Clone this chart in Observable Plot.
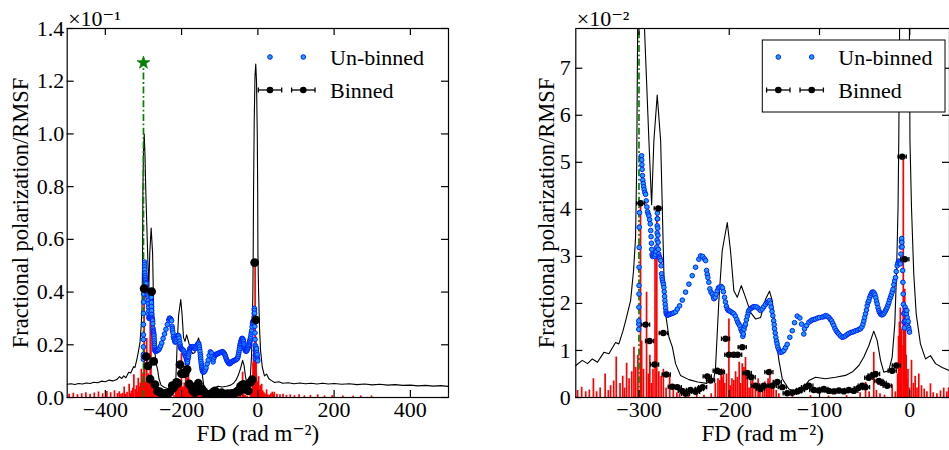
<!DOCTYPE html>
<html><head><meta charset="utf-8">
<script src="https://cdn.jsdelivr.net/npm/d3@7"></script>
<script src="https://cdn.jsdelivr.net/npm/@observablehq/plot@0.6"></script>
<style>
body{margin:0;background:#fff;}
#chart{position:relative;width:949px;height:450px;overflow:hidden;background:#fff;}
#chart > svg{position:absolute;top:0;}
</style></head><body><div id="chart"></div>
<script>
// All polarization values in units of 1e-2 ; FD in rad m^-2
const lineData = [[-500,0.50],[-490,0.52],[-480,0.49],[-470,0.53],[-460,0.51],[-450,0.55],[-440,0.53],[-430,0.58],[-420,0.56],[-410,0.62],[-400,0.60],[-390,0.66],[-380,0.63],[-370,0.68],[-362.8,0.79],[-357,0.72],[-351.7,0.82],[-346,0.75],[-338.9,0.96],[-333.3,0.93],[-326,1.17],[-322.3,1.14],[-318,1.40],[-314.8,1.63],[-309.3,2.06],[-306,2.70],[-303.8,3.40],[-302.5,5.0],[-301.5,7.8],[-300,9.3],[-298,10.0],[-296,9.2],[-293.8,7.8],[-289,5.46],[-286,4.1],[-283.5,5.46],[-279.8,6.43],[-276,5.46],[-272.4,2.63],[-270.5,1.78],[-266.8,1.28],[-263,1.07],[-259.5,0.72],[-254,0.47],[-244.7,0.38],[-235,0.33],[-225,0.30],[-217,0.40],[-215.2,0.64],[-211.5,2.06],[-207.8,3.12],[-202.2,3.72],[-198.6,3.12],[-194.9,2.27],[-191.1,2.13],[-186.7,2.38],[-182,2.13],[-176.4,1.81],[-170.9,1.67],[-165.3,1.70],[-159.8,2.09],[-155.4,2.26],[-152.4,2.06],[-148.7,1.35],[-145,0.79],[-141.3,0.40],[-134,0.18],[-124.7,0.11],[-117.4,0.22],[-111.8,0.36],[-104.4,0.43],[-93.4,0.40],[-82.3,0.43],[-71.2,0.47],[-63.8,0.54],[-56.4,0.68],[-50.9,0.86],[-45.4,1.10],[-39.9,1.41],[-36.1,1.21],[-32.4,0.79],[-28.8,0.54],[-23.3,0.57],[-19.5,0.86],[-16.6,1.56],[-14.7,2.63],[-13,4.04],[-12.2,5.46],[-11.3,7.8],[-9.5,10.5],[-7.5,12.2],[-5.5,12.65],[-3.5,12.0],[-1.5,10.0],[-0.4,7.8],[0.2,5.46],[1.9,4.04],[4.4,2.63],[7.1,1.78],[11.8,1.14],[17.4,0.82],[22.9,0.89],[28.5,0.72],[35.9,0.64],[44,0.57],[55,0.60],[65,0.54],[80,0.56],[95,0.52],[110,0.55],[125,0.52],[140,0.54],[155,0.51],[170,0.54],[185,0.51],[200,0.53],[220,0.50],[240,0.52],[260,0.49],[280,0.51],[300,0.48],[320,0.50],[340,0.47],[360,0.49],[380,0.46],[400,0.47],[420,0.44],[440,0.46],[460,0.43],[480,0.45],[500,0.42]];

const redData = [[-495,0.12],[-484,0.16],[-473,0.10],[-462,0.14],[-451,0.18],[-440,0.12],[-429,0.17],[-418,0.21],[-407,0.14],[-396,0.23],[-386,0.18],[-376,0.26],[-368,0.15],[-363.5,0.22],[-359,0.12],[-355,0.16],[-350.5,0.40],[-347,0.12],[-343,0.20],[-337.5,0.50],[-334,0.15],[-331.5,0.25],[-328,0.35],[-325.2,0.86],[-321,0.30],[-318,0.45],[-316,0.20],[-313.7,0.73],[-311,0.40],[-308,0.55],[-305.6,1.07],[-303.7,0.64],[-301.2,0.90],[-298.3,4.10],[-297,1.20],[-295,0.60],[-291.6,2.24],[-289.5,0.50],[-288,0.90],[-286,0.30],[-284.5,0.60],[-282.2,3.20],[-280.3,4.00],[-278,0.55],[-275.5,0.45],[-273,0.60],[-270,0.20],[-266,0.50],[-262,0.15],[-258,0.10],[-255,0.08],[-245,0.05],[-236,0.06],[-228,0.05],[-220,0.08],[-215.5,0.30],[-212.5,0.40],[-210.4,0.36],[-209,0.50],[-208,0.43],[-206.5,0.60],[-205,0.30],[-203,0.50],[-200.4,1.67],[-199,0.25],[-197,0.40],[-194.9,0.36],[-193,0.55],[-191,0.43],[-189,0.75],[-187.5,0.30],[-185.6,0.72],[-183.7,0.64],[-182,0.85],[-180,0.40],[-178,0.20],[-176,0.35],[-174,0.36],[-171,0.20],[-168,0.40],[-166,0.25],[-163,0.15],[-160.7,0.33],[-158.5,0.25],[-157,0.40],[-155,0.60],[-153,0.30],[-151,0.20],[-148,0.15],[-145,0.08],[-130,0.03],[-110,0.04],[-90,0.03],[-70,0.04],[-55,0.10],[-49,0.32],[-45,0.12],[-39.9,0.96],[-37,0.15],[-33,0.08],[-28,0.05],[-19.5,0.27],[-16,0.12],[-13.5,0.50],[-12.5,1.30],[-11.5,1.60],[-10.5,1.90],[-9.5,1.45],[-8.7,1.10],[-7.2,5.10],[-6.5,1.70],[-5.6,2.30],[-4.8,1.50],[-4,0.90],[-3,0.40],[-2,0.60],[-0.5,0.20],[1.9,0.79],[4,0.30],[6,0.45],[8,0.20],[10,0.50],[13,0.25],[16,0.18],[19,0.12],[22.9,0.29],[26,0.10],[30,0.08],[34,0.14],[37.6,0.20],[41,0.12],[43,0.20],[50,0.12],[58,0.10],[66,0.12],[75,0.08],[85,0.10],[96,0.07],[108,0.10],[122,0.06],[138,0.08],[157,0.10],[175,0.06],[195,0.07],[223,0.06],[250,0.05],[270,0.06],[298,0.06]];

const unbinnedData = [[-300.3,1.45],[-300.3,1.56],[-300.2,1.63],[-300.1,1.92],[-300.0,2.2],[-300.0,2.38],[-299.9,2.77],[-299.8,3.19],[-299.7,3.62],[-299.4,3.93],[-297.1,5.14],[-296.9,5.05],[-296.7,4.95],[-296.5,4.85],[-296.2,4.72],[-295.8,4.62],[-295.3,4.55],[-294.8,4.48],[-294.2,4.42],[-293.5,4.36],[-292.7,4.32],[-292,4.18],[-291.2,4.05],[-290.5,3.95],[-289.7,3.9],[-289,3.86],[-288.2,3.78],[-287.5,3.69],[-287,3.55],[-286.6,3.42],[-286.2,3.28],[-285.9,3.15],[-285.5,3.04],[-285,3.0],[-284.2,3.02],[-283.4,3.05],[-282.5,3.0],[-281.7,3.04],[-281,3.1],[-280.2,3.2],[-280.0,3.35],[-279.9,3.5],[-279.8,3.65],[-279.7,3.8],[-279.6,3.92],[-279.4,3.8],[-279.2,3.6],[-279,3.45],[-278.8,3.3],[-278.5,3.15],[-278.2,3.05],[-277.7,3.0],[-277.2,2.98],[-276.6,2.95],[-276,2.91],[-275.5,2.8],[-275,2.63],[-274.5,2.55],[-274,2.5],[-273.4,2.45],[-272.9,2.4],[-272.4,2.34],[-272,2.25],[-271.6,2.15],[-271.3,2.06],[-270.9,1.98],[-270.5,1.9],[-270.1,1.83],[-269.8,1.79],[-269.2,1.76],[-268.3,1.75],[-267.2,1.76],[-266,1.77],[-264.5,1.78],[-263,1.79],[-261.5,1.8],[-259.5,1.82],[-257.5,1.88],[-255,1.95],[-252,2.07],[-248.4,2.24],[-244.7,2.41],[-241,2.59],[-237.3,2.77],[-233.7,2.94],[-231.8,3.01],[-229.5,3.0],[-227.5,2.95],[-226.2,2.91],[-225.1,2.70],[-224.4,2.62],[-223.7,2.55],[-222.6,2.45],[-221.5,2.31],[-220.2,2.24],[-218.8,2.20],[-217.5,2.14],[-217,2.10],[-215.5,2.13],[-214.5,2.2],[-213.3,2.27],[-212,2.33],[-210.5,2.35],[-208.9,2.36],[-207.5,2.33],[-206.5,2.25],[-205.2,2.13],[-204.2,2.03],[-203.2,1.94],[-202.2,1.88],[-201,1.85],[-199.5,1.84],[-198,1.82],[-196.5,1.8],[-194.9,1.78],[-193.3,1.73],[-191.7,1.66],[-190.5,1.6],[-189.4,1.56],[-188.2,1.52],[-187,1.45],[-186,1.41],[-185.6,1.39],[-185,1.3],[-184.4,1.35],[-183.6,1.45],[-182.8,1.52],[-182,1.56],[-181,1.65],[-180,1.73],[-179,1.8],[-178.3,1.85],[-177,1.88],[-175.5,1.9],[-174,1.92],[-172.8,1.93],[-171,1.93],[-169,1.92],[-167,1.88],[-165.3,1.85],[-163.5,1.88],[-161.7,1.93],[-159.8,1.98],[-157.9,2.02],[-156.5,2.04],[-155.4,2.06],[-154.4,2.0],[-153.5,1.92],[-152.6,1.83],[-151.7,1.74],[-150.8,1.63],[-150.2,1.55],[-149.8,1.46],[-149.1,1.37],[-148.4,1.28],[-147.6,1.2],[-147,1.14],[-146.2,1.07],[-145.2,1.02],[-144.2,0.98],[-143.2,0.96],[-141.3,0.97],[-139.5,1.0],[-137.6,1.06],[-135.8,1.13],[-132.9,1.28],[-130.2,1.42],[-127.7,1.59],[-124.7,1.73],[-121.8,1.69],[-119.9,1.56],[-117.4,1.35],[-116.6,1.46],[-114.4,1.53],[-111.8,1.60],[-109.5,1.63],[-108.1,1.65],[-106,1.66],[-104.4,1.67],[-102,1.69],[-100,1.7],[-97,1.71],[-95,1.72],[-93.4,1.74],[-91.5,1.73],[-89.5,1.70],[-88,1.66],[-86.7,1.63],[-85.4,1.58],[-84.2,1.53],[-82.9,1.47],[-81.5,1.42],[-80,1.38],[-78.6,1.35],[-76.8,1.31],[-74.9,1.28],[-73,1.29],[-71.2,1.31],[-69.3,1.34],[-67.5,1.36],[-65.5,1.38],[-63.7,1.39],[-62,1.40],[-60,1.42],[-58,1.43],[-56.2,1.45],[-54.6,1.46],[-53,1.5],[-51.8,1.56],[-50.9,1.63],[-50,1.7],[-49,1.78],[-48,1.86],[-47.2,1.95],[-46.3,2.02],[-45.4,2.06],[-44.5,2.12],[-43.5,2.17],[-42.5,2.21],[-41.6,2.24],[-40.5,2.24],[-39.5,2.22],[-38.5,2.18],[-37.6,2.12],[-36.9,2.05],[-36.1,1.99],[-35.2,1.91],[-34.3,1.85],[-33.6,1.81],[-32.5,1.78],[-31.5,1.76],[-30.6,1.76],[-29.5,1.77],[-28.2,1.8],[-27,1.84],[-26,1.88],[-25,1.92],[-24,1.97],[-23.2,2.02],[-22.3,2.08],[-21.4,2.13],[-20.5,2.18],[-19.5,2.24],[-18.6,2.3],[-17.7,2.4],[-16.8,2.48],[-15.8,2.55],[-15,2.68],[-14,2.80],[-13.2,2.86],[-12.3,2.9],[-11.5,2.88],[-10.8,2.86],[-10.3,2.84],[-9.8,3.05],[-9.5,3.2],[-9.2,3.33],[-9.0,3.38],[-8.8,3.3],[-8.5,3.2],[-8.2,2.95],[-7.9,2.7],[-7.6,2.45],[-7.3,2.2],[-7.0,1.98],[-6.7,1.78],[-6.4,1.6],[-6.1,1.48],[-5.8,1.62],[-5.5,1.8],[-5.1,1.92],[-4.7,1.85],[-4.3,1.63],[-3.8,1.78],[-3.3,1.85],[-2.8,1.7],[-2.3,1.58],[-1.8,1.62],[-1.3,1.49],[-0.8,1.44],[-0.3,1.39]];

const binnedData = [[-298.2,4.13],[-292.7,1.55],[-288.3,1.20],[-282.7,0.70],[-278.6,4.02],[-273.1,1.37],[-269.8,0.49],[-263.1,0.23],[-257.6,0.22],[-252,0.14],[-248.4,0.08],[-243,0.16],[-237.3,0.12],[-233,0.18],[-229.5,0.22],[-224.4,0.45],[-220.7,0.36],[-213.3,0.57],[-209.8,0.54],[-204.1,1.25],[-200.4,0.91],[-195,0.91],[-190.7,0.91],[-185.6,1.07],[-180.1,0.52],[-175.7,0.43],[-170.9,0.25],[-165.3,0.18],[-161.7,0.25],[-156.1,0.54],[-152.4,0.25],[-146.8,0.33],[-141.3,0.22],[-135.8,0.09],[-130.2,0.10],[-124.7,0.13],[-121,0.16],[-115.5,0.22],[-111.8,0.25],[-106.3,0.16],[-100.8,0.15],[-95.2,0.18],[-89.5,0.14],[-84,0.13],[-78.5,0.15],[-73,0.13],[-67.5,0.16],[-62,0.14],[-57,0.20],[-52.7,0.25],[-49,0.22],[-45.4,0.42],[-41.6,0.47],[-37.9,0.50],[-34.2,0.35],[-30.6,0.31],[-25,0.25],[-19.5,0.57],[-14.9,0.68],[-8.4,5.12],[-5.5,2.94]];
const binHalfWidth = 4.5;

const trueComponent = [[-300, 12.7]];

const leftXTicks = [-400, -200, 0, 200, 400];
const leftYTicks = [0, 2, 4, 6, 8, 10, 12, 14];
const rightXTicks = [-300, -200, -100, 0];
const rightYTicks = [0, 1, 2, 3, 4, 5, 6, 7];

const xLabel = "FD (rad m\u207B\u00B2)";
const yLabel = "Fractional polarization/RMSF";
const legendLabels = ["Un-binned", "Binned"];

const toObj = a => a.map(([fd, pol]) => ({fd, pol}));
const line = toObj(lineData), red = toObj(redData), unb = toObj(unbinnedData), bin = toObj(binnedData), truth = toObj(trueComponent);

const FONT = '"Liberation Serif", "DejaVu Serif", serif';
const BLUE_FILL = "#1e9cff", BLUE_STROKE = "#0022ff";
const vbar = {draw(ctx, size) { const r = Math.sqrt(size / Math.PI); ctx.moveTo(0, -r); ctx.lineTo(0, r); }};
const fmtX = d => d < 0 ? "\u2212" + Math.abs(d) : String(d);

function panel(o) {
  const mt = 28, mb = 53;
  const fh = 450 - mt - mb, fw = o.width - o.ml - o.mr;
  const tk = 7;
  return Plot.plot({
    width: o.width, height: 450,
    marginLeft: o.ml, marginRight: o.mr, marginTop: mt, marginBottom: mb,
    x: {domain: o.xDomain}, y: {domain: o.yDomain},
    style: {fontFamily: FONT, fontSize: "22px", color: "#000", background: "transparent", overflow: "visible"},
    marks: [
      Plot.line(line, {x: "fd", y: "pol", stroke: "black", strokeWidth: 1.1, clip: true}),
      Plot.ruleX(red, {x: "fd", y1: 0, y2: "pol", stroke: "#ff0000", strokeWidth: 1.7, clip: true}),
      Plot.ruleX(truth, {x: "fd", y1: 0, y2: "pol", stroke: "#008000", strokeWidth: 1.7, strokeDasharray: "7,2.5,1.8,2.5", clip: true}),
      Plot.dot(truth, {x: "fd", y: "pol", symbol: "star", r: 4, fill: "#008000", stroke: "#008000", strokeWidth: 0.8, clip: true}),
      Plot.dot(unb, {x: "fd", y: "pol", r: 2.3, fill: BLUE_FILL, stroke: BLUE_STROKE, strokeWidth: 1, clip: true}),
      Plot.ruleY(bin, {y: "pol", x1: d => d.fd - binHalfWidth, x2: d => d.fd + binHalfWidth, stroke: "black", strokeWidth: 1.3, clip: true}),
      Plot.dot(bin, {x: d => d.fd - binHalfWidth, y: "pol", symbol: vbar, r: 2.2, fill: "none", stroke: "black", strokeWidth: 1.3, clip: true}),
      Plot.dot(bin, {x: d => d.fd + binHalfWidth, y: "pol", symbol: vbar, r: 2.2, fill: "none", stroke: "black", strokeWidth: 1.3, clip: true}),
      Plot.dot(bin, {x: "fd", y: "pol", r: o.binR, fill: "black", stroke: "none", clip: true}),
      Plot.frame({stroke: "black", strokeWidth: 1.2}),
      Plot.ruleX(o.xTicks, {x: d => d, insetTop: fh - tk, stroke: "black", strokeWidth: 1.2}),
      Plot.ruleX(o.xTicks, {x: d => d, insetBottom: fh - tk, stroke: "black", strokeWidth: 1.2}),
      Plot.ruleY(o.yTicks, {y: d => d, insetRight: fw - tk, stroke: "black", strokeWidth: 1.2}),
      Plot.ruleY(o.yTicks, {y: d => d, insetLeft: fw - tk, stroke: "black", strokeWidth: 1.2}),
      Plot.axisX({ticks: o.xTicks, tickSize: 0, tickPadding: 4, tickFormat: fmtX, label: null, fontSize: 22, fontFamily: FONT}),
      Plot.axisY({ticks: o.yTicks, tickSize: 0, tickPadding: o.yPad, tickFormat: o.yFmt, label: null, fontSize: 22, fontFamily: FONT}),
      Plot.text([xLabel], {text: d => d, frameAnchor: "bottom", textAnchor: "middle", lineAnchor: "middle", dy: 36, fontSize: 23, fontFamily: FONT}),
      Plot.text([yLabel], {text: d => d, frameAnchor: "left", textAnchor: "middle", lineAnchor: "middle", dx: o.yLabDx, rotate: -90, fontSize: 22.5, fontFamily: FONT}),
      Plot.text([o.sci], {text: d => d, frameAnchor: "top-left", textAnchor: "start", lineAnchor: "middle", dx: 1, dy: -10, fontSize: 22, fontFamily: FONT})
    ]
  });
}

const chart = document.getElementById("chart");
const left = panel({width: 470, ml: 66.7, mr: 22, xDomain: [-500, 500], yDomain: [0, 14],
  xTicks: leftXTicks, yTicks: leftYTicks, yFmt: d => (d / 10).toFixed(1), yPad: 3, yLabDx: -46.7, binR: 4.4,
  sci: "\u00D710\u207B\u00B9"});
left.style.left = "0px";
chart.appendChild(left);
const right = panel({width: 479, ml: 105.3, mr: 0, xDomain: [-370, 44], yDomain: [0, 7.845],
  xTicks: rightXTicks, yTicks: rightYTicks, yFmt: d => String(d), yPad: 5, yLabDx: -29.3, binR: 3.2,
  sci: "\u00D710\u207B\u00B2"});
right.style.left = "470px";
chart.appendChild(right);

// legends
const leg = d3.create("svg").attr("width", 949).attr("height", 450).style("left", "0px").style("pointer-events", "none");
function drawLegend(mx, tx, y1, y2) {
  const g = leg.append("g");
  mx.forEach(x => {
    g.append("circle").attr("cx", x).attr("cy", y1).attr("r", 2.3).attr("fill", BLUE_FILL).attr("stroke", BLUE_STROKE).attr("stroke-width", 1);
    g.append("line").attr("x1", x - 11.7).attr("x2", x + 11.7).attr("y1", y2).attr("y2", y2).attr("stroke", "black").attr("stroke-width", 1.3);
    [x - 11.7, x + 11.7].forEach(cx => g.append("line").attr("x1", cx).attr("x2", cx).attr("y1", y2 - 2.5).attr("y2", y2 + 2.5).attr("stroke", "black").attr("stroke-width", 1.3));
    g.append("circle").attr("cx", x).attr("cy", y2).attr("r", 3.3).attr("fill", "black");
  });
  [y1, y2].forEach((y, i) => g.append("text").attr("x", tx).attr("y", y + 7.5).attr("font-family", FONT).attr("font-size", 22).text(legendLabels[i]));
}
leg.append("rect").attr("x", 762.3).attr("y", 40).attr("width", 182.7).attr("height", 72).attr("fill", "white").attr("stroke", "black").attr("stroke-width", 1);
drawLegend([270, 303.3], 330, 57, 90);
drawLegend([778.3, 811.7], 838.3, 57, 90);
chart.appendChild(leg.node());
</script></body></html>
